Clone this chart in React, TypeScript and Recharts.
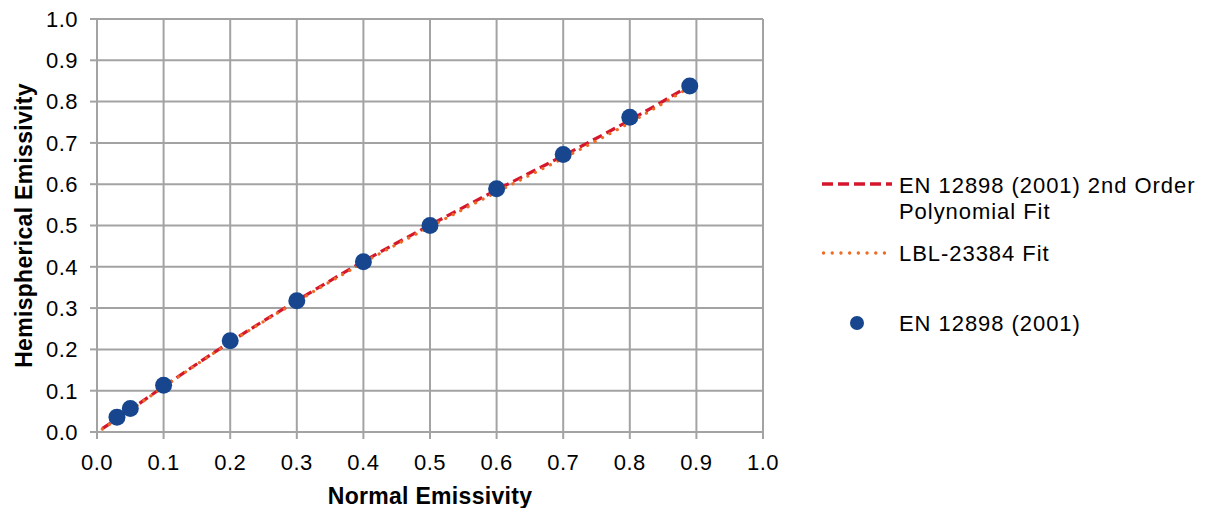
import React from 'react';
import { ComposedChart, XAxis, YAxis, CartesianGrid, Line, Scatter, Label } from 'recharts';

const ticks = [0, 0.1, 0.2, 0.3, 0.4, 0.5, 0.6, 0.7, 0.8, 0.9, 1.0];

const measuredX = [0.03, 0.05, 0.1, 0.2, 0.3, 0.4, 0.5, 0.6, 0.7, 0.8, 0.89];
const measuredY = [0.036, 0.057, 0.113, 0.221, 0.318, 0.412, 0.5, 0.589, 0.672, 0.762, 0.838];

const fitX = [0.008, 0.05, 0.1, 0.2, 0.3, 0.4, 0.5, 0.6, 0.7, 0.8, 0.885];
const polyY = [0.008, 0.054, 0.11, 0.218, 0.318, 0.413, 0.501, 0.586, 0.669, 0.755, 0.834];
const lblY = [0.007, 0.053, 0.109, 0.217, 0.316, 0.41, 0.497, 0.581, 0.663, 0.749, 0.83];

const legendLabels = ['EN 12898 (2001) 2nd Order', 'Polynomial Fit', 'LBL-23384 Fit', 'EN 12898 (2001)'];

const measured = measuredX.map((x, i) => ({ x, y: measuredY[i] }));
const poly = fitX.map((x, i) => ({ x, y: polyY[i] }));
const lbl = fitX.map((x, i) => ({ x, y: lblY[i] }));

const FONT = '"Liberation Sans", Arial, sans-serif';
const GRID = '#a3a3a3';
const RED = '#d5172d';
const ORANGE = '#ee6b25';
const BLUE = '#17468f';

const fmt = (v: number) => v.toFixed(1);

const LegendBox = () => (
  <svg width={397} height={200} style={{ display: 'block', position: 'absolute', left: 810, top: 160 }}>
    <line x1={12} y1={24} x2={82} y2={24} stroke={RED} strokeWidth={3.3} strokeDasharray="11 5" />
    <text x={89} y={32.7} fontFamily={FONT} fontSize={22} letterSpacing={0.95} fill="#000">{legendLabels[0]}</text>
    <text x={89} y={59} fontFamily={FONT} fontSize={22} letterSpacing={0.95} fill="#000">{legendLabels[1]}</text>
    <line x1={13.5} y1={93} x2={82} y2={93} stroke={ORANGE} strokeWidth={3.3} strokeLinecap="round" strokeDasharray="0.1 8.6" />
    <text x={89} y={101} fontFamily={FONT} fontSize={22} letterSpacing={0.95} fill="#000">{legendLabels[2]}</text>
    <circle cx={47} cy={163} r={7} fill={BLUE} />
    <text x={89} y={171} fontFamily={FONT} fontSize={22} letterSpacing={0.95} fill="#000">{legendLabels[3]}</text>
  </svg>
);

const YTitle = (props: any) => {
  const vb = props.viewBox || { x: 0, y: 19, width: 97, height: 413 };
  const cx = 32;
  const cy = vb.y + vb.height / 2;
  return (
    <text x={cx} y={cy} transform={`rotate(-90 ${cx} ${cy})`} textAnchor="middle" fontFamily={FONT} fontSize={23} fontWeight="bold" letterSpacing={0.3} fill="#000">
      Hemispherical Emissivity
    </text>
  );
};

const XTitle = (props: any) => {
  const vb = props.viewBox || { x: 97, y: 432, width: 666, height: 76 };
  const cx = vb.x + vb.width / 2;
  return (
    <text x={cx} y={504} textAnchor="middle" fontFamily={FONT} fontSize={23} fontWeight="bold" letterSpacing={0.3} fill="#000">
      Normal Emissivity
    </text>
  );
};

const Dot = (p: any) => <circle cx={p.cx} cy={p.cy} r={8.5} fill={BLUE} />;

export default function App() {
  const tickStyle = { fontFamily: FONT, fontSize: 22, fill: '#000', letterSpacing: 0.5 };
  return (
    <div style={{ position: 'absolute', left: 0, top: 0, width: 1207, height: 508, background: '#fff' }}>
      <ComposedChart width={1207} height={508} margin={{ top: 19, right: 444, bottom: 0, left: 0 }}>
        <CartesianGrid stroke={GRID} strokeWidth={2} horizontalValues={ticks} verticalValues={ticks} />
        <XAxis
          type="number"
          dataKey="x"
          domain={[0, 1]}
          ticks={ticks}
          tickFormatter={fmt}
          height={76}
          tickSize={7}
          tickMargin={15}
          tick={tickStyle}
          stroke={GRID}
          axisLine={{ stroke: GRID, strokeWidth: 2 }}
          tickLine={{ stroke: GRID, strokeWidth: 2 }}
          interval={0}
          allowDataOverflow
        >
          <Label content={<XTitle />} />
        </XAxis>
        <YAxis
          type="number"
          dataKey="y"
          domain={[0, 1]}
          ticks={ticks}
          tickFormatter={fmt}
          width={97}
          tickSize={7}
          tickMargin={12}
          tick={tickStyle}
          stroke={GRID}
          axisLine={{ stroke: GRID, strokeWidth: 2 }}
          tickLine={{ stroke: GRID, strokeWidth: 2 }}
          interval={0}
          allowDataOverflow
        >
          <Label content={<YTitle />} />
        </YAxis>
        <Line data={poly} dataKey="y" type="monotone" stroke={RED} strokeWidth={3.2} strokeDasharray="10 5" dot={false} activeDot={false} isAnimationActive={false} legendType="none" />
        <Line data={lbl} dataKey="y" type="monotone" stroke={ORANGE} strokeWidth={3.2} strokeLinecap="round" strokeDasharray="0.1 8.3" dot={false} activeDot={false} isAnimationActive={false} legendType="none" />
        <Scatter data={measured} dataKey="y" shape={<Dot />} isAnimationActive={false} />
      </ComposedChart>
      <LegendBox />
    </div>
  );
}
